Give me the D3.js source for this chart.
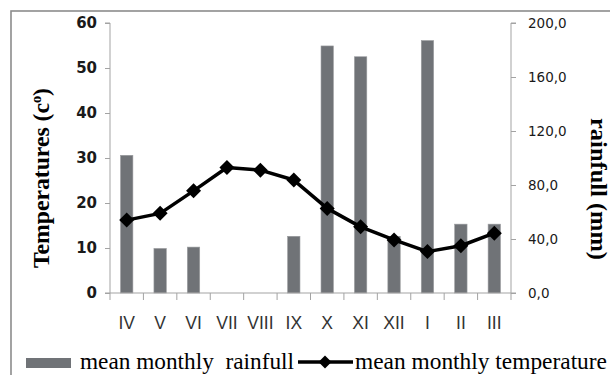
<!DOCTYPE html>
<html>
<head>
<meta charset="utf-8">
<script src="https://cdn.jsdelivr.net/npm/d3@7"></script>
<style>
  html, body { margin: 0; padding: 0; background: #fff; }
  svg { display: block; }
</style>
</head>
<body>
<svg id="chart" width="610" height="375"></svg>
<script>
// Months of the hydrological year, April to March
const months = ["IV", "V", "VI", "VII", "VIII", "IX", "X", "XI", "XII", "I", "II", "III"];
// Mean monthly rainfall, mm (right axis)
const rainfall = [102, 33, 34, 0, 0, 42, 183, 175, 42, 187, 51, 51];
// Mean monthly temperature, °C (left axis)
const temperature = [16.2, 17.7, 22.7, 27.9, 27.3, 25.1, 18.8, 14.7, 11.8, 9.2, 10.5, 13.3];
// Axis ticks
const tempTicks = [0, 10, 20, 30, 40, 50, 60];
const rainTicks = [0, 40, 80, 120, 160, 200];

const svg = d3.select("#chart");
const axisColor = "#a3a3a3";
const barColor = "#707377";

const plotLeft = 110, plotRight = 511, plotTop = 23, plotBottom = 293;

// Outer frame
svg.append("rect")
  .attr("x", 11).attr("y", 11).attr("width", 640).attr("height", 400)
  .attr("fill", "none").attr("stroke", "#8c8c8c").attr("stroke-width", 1.6);

// Scales
const xBand = d3.scaleBand().domain(months).range([plotLeft, plotRight]);
const xBar = d3.scaleBand().domain(months).range([plotLeft, plotRight])
  .paddingInner(0.63).paddingOuter(0.315);
const yT = d3.scaleLinear().domain([0, 60]).range([plotBottom, plotTop]);
const yR = d3.scaleLinear().domain([0, 200]).range([plotBottom, plotTop]);

const commaFmt = d3.formatLocale({ decimal: ",", thousands: ".", grouping: [3], currency: ["", ""] }).format(".1f");

// Bars: rainfall
svg.append("g").selectAll("rect")
  .data(months.map((m, i) => ({ m, v: rainfall[i] })).filter(d => d.v > 0))
  .join("rect")
  .attr("x", d => xBar(d.m))
  .attr("width", xBar.bandwidth())
  .attr("y", d => yR(d.v))
  .attr("height", d => yR(0) - yR(d.v))
  .attr("fill", barColor)
  .attr("stroke", "#9a9c9f").attr("stroke-width", 0.6);

// Left axis
const gL = svg.append("g").attr("transform", `translate(${plotLeft},0)`)
  .call(d3.axisLeft(yT).tickValues(tempTicks).tickSize(5).tickPadding(8).tickFormat(d3.format("d")));
gL.select(".domain").attr("stroke", axisColor).attr("d", `M-5,${plotTop}H0V${plotBottom}`);
gL.selectAll(".tick line").attr("stroke", axisColor);
gL.selectAll(".tick text")
  .attr("font-family", "DejaVu Sans").attr("font-weight", "bold").attr("font-size", 15)
  .attr("fill", "#1a1a1a");

// Right axis
const gR = svg.append("g").attr("transform", `translate(${plotRight},0)`)
  .call(d3.axisRight(yR).tickValues(rainTicks).tickSize(5).tickPadding(12).tickFormat(commaFmt));
gR.select(".domain").attr("stroke", axisColor).attr("d", `M5,${plotTop}H0V${plotBottom}`);
gR.selectAll(".tick line").attr("stroke", axisColor);
gR.selectAll(".tick text")
  .attr("font-family", "DejaVu Sans").attr("font-size", 13.5)
  .attr("fill", "#1a1a1a");

// Category axis: labels centred in each month, ticks on month boundaries
const gX = svg.append("g").attr("transform", `translate(0,${plotBottom})`)
  .call(d3.axisBottom(xBand).tickSize(0).tickPadding(24));
gX.select(".domain").attr("stroke", axisColor).attr("d", `M${plotLeft - 5},0H${plotRight + 5}`);
gX.selectAll(".tick text")
  .attr("font-family", "Liberation Sans").attr("font-size", 17.5)
  .attr("fill", "#333");
const edges = months.map(m => xBand(m)).concat([plotRight]);
gX.append("g").selectAll("line")
  .data(edges).join("line")
  .attr("x1", d => d).attr("x2", d => d)
  .attr("y1", 0).attr("y2", 7)
  .attr("stroke", axisColor);

// Temperature line with diamond markers
const pts = months.map((m, i) => [xBand(m) + xBand.bandwidth() / 2, yT(temperature[i])]);
svg.append("path")
  .attr("d", d3.line()(pts))
  .attr("fill", "none").attr("stroke", "#000").attr("stroke-width", 3.5)
  .attr("stroke-linejoin", "round");
const diamond = r => `M0,${-r}L${r},0L0,${r}L${-r},0Z`;
svg.append("g").selectAll("path")
  .data(pts).join("path")
  .attr("transform", d => `translate(${d[0]},${d[1]})`)
  .attr("d", diamond(7.5))
  .attr("fill", "#000");

// Axis titles
const tTitle = svg.append("text")
  .attr("transform", "translate(49,178) rotate(-90)")
  .attr("text-anchor", "middle")
  .attr("font-family", "Liberation Serif").attr("font-weight", "bold").attr("font-size", 23)
  .attr("textLength", 180).attr("lengthAdjust", "spacingAndGlyphs");
tTitle.append("tspan").text("Temperatures (c");
tTitle.append("tspan").attr("font-size", 14).attr("dy", -8).text("o");
tTitle.append("tspan").attr("dy", 8).text(")");

svg.append("text")
  .attr("transform", "translate(591,189) rotate(90)")
  .attr("text-anchor", "middle")
  .attr("font-family", "Liberation Serif").attr("font-weight", "bold").attr("font-size", 23)
  .attr("textLength", 142).attr("lengthAdjust", "spacingAndGlyphs")
  .text("rainfull (mm)");

// Legend
const legY = 362;
svg.append("rect")
  .attr("x", 26).attr("y", legY - 4).attr("width", 45).attr("height", 10)
  .attr("fill", barColor);
svg.append("text")
  .attr("x", 80).attr("y", legY + 7)
  .attr("font-family", "Liberation Serif").attr("font-size", 23)
  .attr("textLength", 214).attr("lengthAdjust", "spacingAndGlyphs")
  .style("white-space", "pre")
  .text("mean monthly  rainfull");
svg.append("line")
  .attr("x1", 298).attr("x2", 353).attr("y1", legY).attr("y2", legY)
  .attr("stroke", "#000").attr("stroke-width", 3.5);
svg.append("path")
  .attr("transform", `translate(325,${legY})`)
  .attr("d", diamond(6.5)).attr("fill", "#000");
svg.append("text")
  .attr("x", 355).attr("y", legY + 7)
  .attr("font-family", "Liberation Serif").attr("font-size", 23)
  .attr("textLength", 252).attr("lengthAdjust", "spacingAndGlyphs")
  .text("mean monthly temperature");
</script>
</body>
</html>
